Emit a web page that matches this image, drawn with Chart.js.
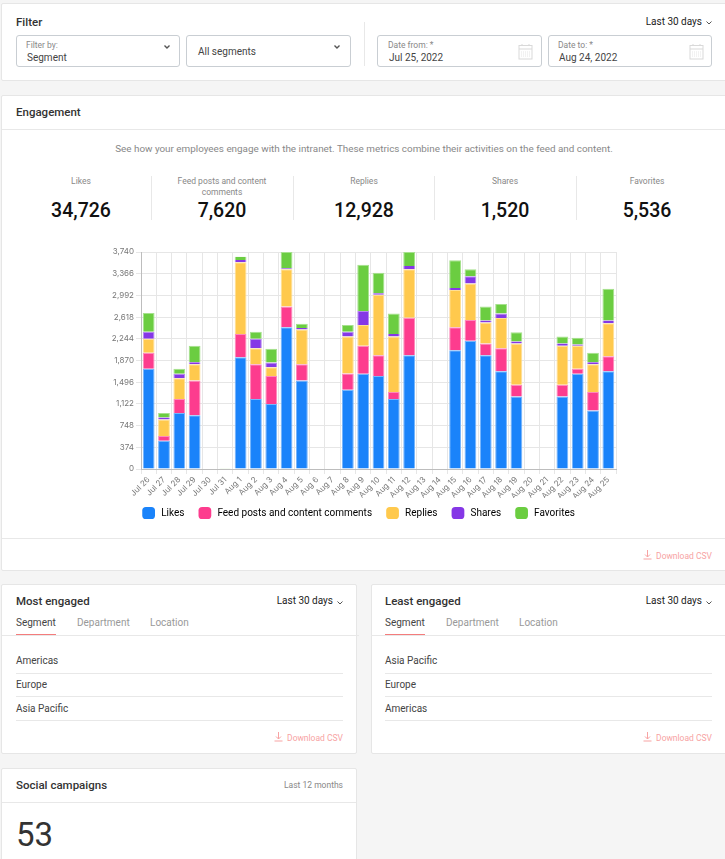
<!DOCTYPE html>
<html><head><meta charset="utf-8">
<style>
html,body{margin:0;padding:0;width:725px;height:859px;overflow:hidden;background:#f5f5f5;font-family:Roboto,sans-serif;color:#333}
.card{position:absolute;background:#fff;border:1px solid #e6e6e6;border-radius:2px;box-sizing:border-box}
.t{position:absolute;white-space:nowrap;line-height:1}
.line{position:absolute;background:#e8e8e8}
.box{position:absolute;border:1px solid #c9ced3;border-radius:3px;box-sizing:border-box;background:#fff}
canvas{position:absolute;left:0;top:0}
svg{position:absolute}
</style></head><body>
<div class="card" style="left:1px;top:3px;width:730px;height:78px"></div>
<div class="card" style="left:1px;top:95px;width:730px;height:476px"></div>
<div class="card" style="left:1px;top:584px;width:356px;height:170px"></div>
<div class="card" style="left:371px;top:584px;width:360px;height:170px"></div>
<div class="card" style="left:1px;top:768px;width:356px;height:110px"></div>
<div id="ui"></div>
<canvas id="c" width="725" height="540" style="width:725px;height:540px"></canvas>
<script src="https://cdn.jsdelivr.net/npm/chart.js@4/dist/chart.umd.min.js"></script>
<script>
const categories=["Jul 26","Jul 27","Jul 28","Jul 29","Jul 30","Jul 31","Aug 1","Aug 2","Aug 3","Aug 4","Aug 5","Aug 6","Aug 7","Aug 8","Aug 9","Aug 10","Aug 11","Aug 12","Aug 13","Aug 14","Aug 15","Aug 16","Aug 17","Aug 18","Aug 19","Aug 20","Aug 21","Aug 22","Aug 23","Aug 24","Aug 25"];
const likes=[1726,489,967,926,0,0,1928,1208,1122,2445,1525,0,0,1364,1640,1605,1208,1962,8,0,2048,2210,1962,1686,1249,8,0,1249,1640,1007,1686];
const feedPosts=[276,81,241,599,0,0,397,599,483,357,282,0,0,282,483,357,121,645,0,0,397,356,202,397,201,0,0,201,86,322,259];
const replies=[242,282,357,282,8,8,1237,276,150,639,598,0,8,638,357,1042,955,834,0,0,639,633,362,518,714,0,0,673,397,478,569];
const shares=[121,34,75,34,0,0,40,161,81,17,23,0,0,81,242,23,41,57,0,0,35,121,35,80,34,0,0,41,23,34,47];
const favorites=[322,81,86,282,0,6,58,121,235,282,75,0,0,115,799,356,356,242,0,0,477,121,241,161,161,0,0,120,115,161,546];
const seriesNames=["Likes","Feed posts and content comments","Replies","Shares","Favorites"];
const seriesColors=["#1a83fa","#fd3c8e","#ffc94d","#8537e6","#6bcd41"];
const seriesEdges=["#75b5fc","#fe8abb","#ffdf94","#b688f0","#a6e18d"];
const yTicks=[0,374,748,1122,1496,1870,2244,2618,2992,3366,3740];
const statLabels=["Likes","Feed posts and content<br>comments","Replies","Shares","Favorites"];
const statValues=["34,726","7,620","12,928","1,520","5,536"];
const mostEngaged=["Americas","Europe","Asia Pacific"];
const leastEngaged=["Asia Pacific","Europe","Americas"];

const ui=document.getElementById('ui');
function t(x,y,s,size,color,weight,align){
  const d=document.createElement('div');d.className='t';d.innerHTML=s;
  let st=`top:${y+1-size/2}px;font-size:${size}px;color:${color};font-weight:${weight||400};`;
  if(align==='r')st+=`right:${725-x}px;text-align:right;`;
  else if(align==='c')st+=`left:${x-100}px;width:200px;text-align:center;`;
  else st+=`left:${x}px;`;
  d.style.cssText=st;ui.appendChild(d);
}
function l(x,y,w,h,c){const d=document.createElement('div');d.className='line';d.style.cssText=`left:${x}px;top:${y}px;width:${w}px;height:${h}px;`+(c?`background:${c}`:'');ui.appendChild(d);}
function box(x,y,w,h){const d=document.createElement('div');d.className='box';d.style.cssText=`left:${x}px;top:${y}px;width:${w}px;height:${h}px`;ui.appendChild(d);}
function svg(x,y,w,h,inner){ui.insertAdjacentHTML('beforeend',`<svg style="left:${x}px;top:${y}px" width="${w}" height="${h}" viewBox="0 0 ${w} ${h}" fill="none">${inner}</svg>`);}
function chev(x,y,c,sw){svg(x,y,8,6,`<path d="M1.5 1.5 L4 4 L6.5 1.5" stroke="${c||'#555'}" stroke-width="${sw||1}"/>`);}
function cal(x,y){svg(x,y,16,18,`<rect x="1" y="2.5" width="13" height="13.5" stroke="#d9d9d9"/><path d="M1 6H14M4 1V3M11 1V3" stroke="#d9d9d9"/><path d="M3 9H12M3 11H12M3 13H12" stroke="#e6e6e6" stroke-dasharray="1 1"/>`);}
function dl(x,y){t(x,y,'Download CSV',8.5,'#f7a3a3',400,'r');svg(x-69,y-5,9,10,`<path d="M4.5 0V7M2 4.5L4.5 7L7 4.5M0.5 9H8.5" stroke="#f7a3a3"/>`);}

t(16,22,'Filter',11.5,'#333',500);
t(702,21,'Last 30 days',10,'#222',400,'r');chev(705,20);
box(16,35,164,32);box(186,35,165,32);box(377,35,165,32);box(548,35,164,32);
t(26,44,'Filter by:',8.5,'#888');t(27,57,'Segment',10,'#444');chev(163,44,'#555',1.4);
t(198,51,'All segments',10,'#444');chev(333,44,'#555',1.4);
t(388,44,'Date from: *',8.5,'#888');t(389,57,'Jul 25, 2022',10,'#444');cal(518,43);
t(558,44,'Date to: *',8.5,'#888');t(559,57,'Aug 24, 2022',10,'#444');cal(689,43);
l(364,22,1,44);

t(16,112,'Engagement',11.5,'#333',500);l(2,129,723,1);
t(364,148,'See how your employees engage with the intranet. These metrics combine their activities on the feed and content.',9.9,'#888',400,'c');
ui.lastChild.style.cssText+=';left:64px;width:600px';
const cx=[81,222,364,505,647];
statLabels.forEach((s,i)=>{
  const d=document.createElement('div');d.className='t';d.innerHTML=s;
  d.style.cssText=`left:${cx[i]-70}px;width:140px;text-align:center;top:176px;font-size:8.5px;line-height:11px;color:#888;`;ui.appendChild(d);
  t(cx[i],210,statValues[i],19.5,'#111',500,'c');
  if(i<4)l([151,293,434,576][i],176,1,44);
});
l(2,538,723,1);dl(712,555);

function panel(x,title,rows,right){
  t(x+15,601,title,11.5,'#333',500);
  t(right-10,600,'Last 30 days',10,'#222',400,'r');chev(right-7,600);
  t(x+15,622,'Segment',10,'#444');t(x+76,622,'Department',10,'#999');t(x+149,622,'Location',10,'#999');
  l(x+15,634,40,1.4,'#f47c7c');l(x+1,635,right-x+15,1);
  rows.forEach((r,i)=>{const ty=[660,684,708][i],ly=[673,696,720][i];t(x+15,ty,r,10,'#444');l(x+15,ly,right-x-15,1);});
  dl(right,737);
}
panel(1,'Most engaged',mostEngaged,343);
panel(370,'Least engaged',leastEngaged,712);
l(2,635,354,1);
t(16,785,'Social campaigns',11.5,'#333',500);t(343,784,'Last 12 months',8.5,'#888',400,'r');l(2,802,354,1);
t(16,833,'53',33,'#333',400);

const arrays=[likes,feedPosts,replies,shares,favorites];
new Chart(document.getElementById('c'),{
  type:'bar',
  plugins:[{id:'legendShift',afterLayout(ch){const g=ch.legend;if(g._shifted)return;g._shifted=true;const d=g.draw;g.draw=function(){const c=this.ctx;c.save();c.translate(0,-3);d.call(this);c.restore();};}}],
  data:{labels:categories,datasets:arrays.map((d,i)=>({label:seriesNames[i],data:d,backgroundColor:seriesColors[i],borderColor:seriesEdges[i],
    borderSkipped:false,
    borderWidth:ctx=>({left:1,right:1,top:ctx.raw>=60?1:0,bottom:0}),categoryPercentage:0.77,barPercentage:1}))},
  options:{
    responsive:false,animation:false,devicePixelRatio:1,
    layout:{padding:{left:100,right:109,top:252,bottom:9}},
    plugins:{tooltip:{enabled:false},legend:{position:'bottom',labels:{boxWidth:14,boxHeight:14,padding:13,color:'#555',font:{family:'Roboto',size:10},
      generateLabels(ch){return seriesNames.map((n,i)=>({text:n,fillStyle:seriesColors[i],strokeStyle:seriesColors[i],lineWidth:0,pointStyle:'rectRounded',datasetIndex:i}));},usePointStyle:true,pointStyle:'rectRounded',pointStyleWidth:15}}},
    scales:{
      x:{stacked:true,afterFit:s=>{s.height=29;},grid:{color:'#e6e6e6',tickLength:5,offset:true},border:{color:'#bdbdbd'},ticks:{autoSkip:false,maxRotation:45,minRotation:45,color:'#777',padding:1,font:{family:'Inter',size:8}}},
      y:{stacked:true,min:0,max:3740,afterFit:s=>{s.width=41;},afterBuildTicks:a=>{a.ticks=yTicks.map(v=>({value:v}));},grid:{color:'#e6e6e6',tickLength:5},border:{color:'#bdbdbd'},ticks:{color:'#777',padding:2,font:{family:'Inter',size:8},callback:v=>v.toLocaleString('en-US')}}
    }
  }
});
</script></body></html>
